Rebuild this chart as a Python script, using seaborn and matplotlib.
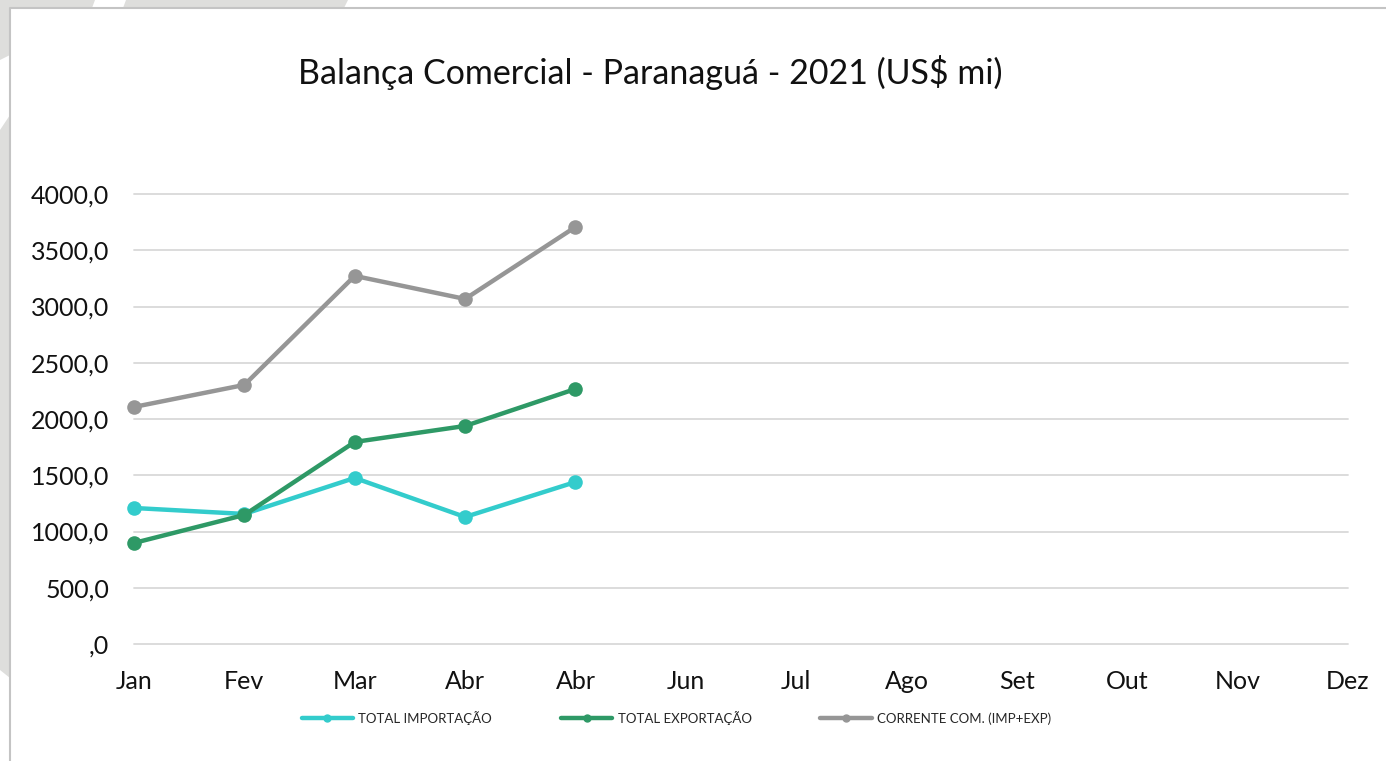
import pandas as pd
import seaborn as sns
import matplotlib.pyplot as plt
from matplotlib.patches import Polygon
from matplotlib.lines import Line2D

# dados (US$ milhões)
meses = ["Jan", "Fev", "Mar", "Abr", "Abr", "Jun", "Jul", "Ago", "Set", "Out", "Nov", "Dez"]
importacao = [1209, 1156, 1476, 1129, 1440]
exportacao = [898, 1147, 1796, 1938, 2267]
corrente = [2107, 2303, 3272, 3067, 3707]
series = ["TOTAL IMPORTAÇÃO", "TOTAL EXPORTAÇÃO", "CORRENTE COM. (IMP+EXP)"]
cores = ["#33CCCC", "#2E9966", "#969696"]
yticks = [0, 500, 1000, 1500, 2000, 2500, 3000, 3500, 4000]
ytick_labels = [",0", "500,0", "1000,0", "1500,0", "2000,0", "2500,0", "3000,0", "3500,0", "4000,0"]

linhas = []
for nome, valores in zip(series, [importacao, exportacao, corrente]):
    for i, v in enumerate(valores):
        linhas.append({"mes": i, "valor": v, "serie": nome})
df = pd.DataFrame(linhas)

sns.set_style("white")
plt.rcParams['font.family'] = ['Lato', 'DejaVu Sans']

W, H = 1386, 761
fig = plt.figure(figsize=(W / 100, H / 100), dpi=100)
fig.patch.set_facecolor("white")


def px(x, y):
    return (x / W, 1 - y / H)


# faixas decorativas do fundo
cinza = "#DEDEDC"
for poly in [
    [(0, 0), (95, 0), (92, 8), (0, 8)],
    [(126, 0), (348, 0), (344, 8), (123, 8)],
    [(0, 0), (10, 0), (10, 55), (0, 60)],
    [(0, 130), (10, 115), (10, 678), (0, 670)],
]:
    fig.patches.append(Polygon([px(*p) for p in poly], closed=True,
                               transform=fig.transFigure, facecolor=cinza,
                               edgecolor="none", zorder=0))
fig.lines.append(Line2D([10 / W, 10 / W, 1], [0, 1 - 8 / H, 1 - 8 / H],
                        transform=fig.transFigure, color="#C4C4C4", lw=1.5))

ax = fig.add_axes([134 / W, 1 - 644 / H, (1348 - 134) / W, 450 / H])
sns.lineplot(data=df, x="mes", y="valor", hue="serie", hue_order=series,
             palette=cores, marker="o", markersize=10.5, linewidth=3.2,
             markeredgewidth=0, clip_on=False, legend=False, ax=ax)

ax.set_xlim(0, 11)
ax.set_ylim(0, 4000)
ax.set_xticks(range(len(meses)))
ax.set_xticklabels(meses)
ax.set_yticks(yticks)
ax.set_yticklabels(ytick_labels)
ax.set_xlabel("")
ax.set_ylabel("")
ax.tick_params(axis="x", length=0, pad=19, labelsize=18, colors="#111111")
ax.tick_params(axis="y", length=0, pad=18, labelsize=18, colors="#111111")
ax.yaxis.grid(True, color="#D9D9D9", lw=1.3)
for gl in ax.get_ygridlines():
    gl.set_clip_on(False)
for s in ax.spines.values():
    s.set_visible(False)
ax.set_facecolor("none")

fig.text(650 / W, 1 - 73 / H, "Balança Comercial - Paranaguá - 2021 (US$ mi)",
         ha="center", va="center", fontsize=24.5, color="#111111")

handles = [Line2D([], [], color=c, lw=3.2, marker="o", markersize=5) for c in cores]
fig.legend(handles, series, loc="center", bbox_to_anchor=(0.488, 1 - 718 / H),
           ncol=3, frameon=False, fontsize=9.5, handlelength=3.9,
           columnspacing=5.2, handletextpad=0.4)

plt.savefig("out.png", dpi=100)
